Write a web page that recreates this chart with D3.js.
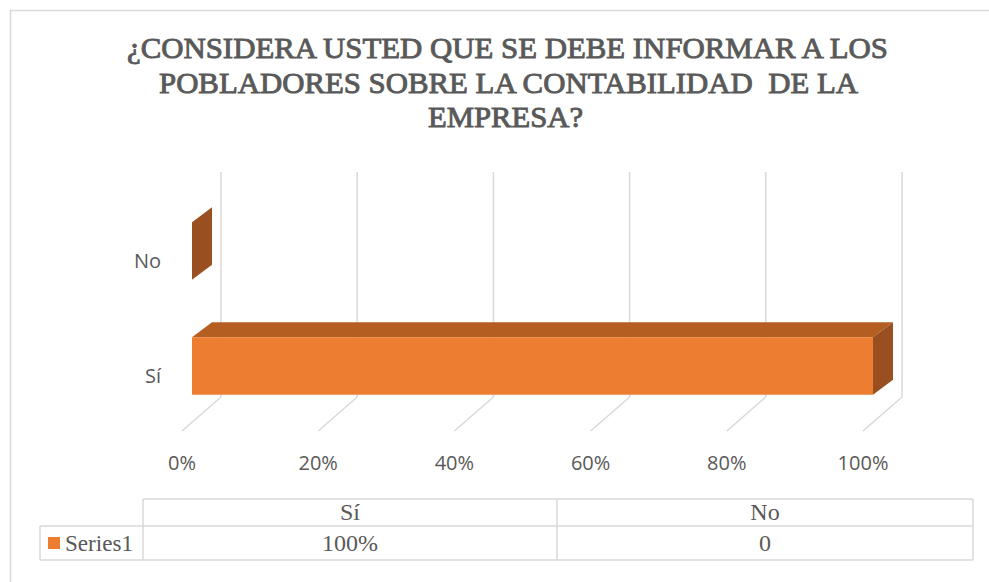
<!DOCTYPE html>
<html><head><meta charset="utf-8">
<script src="https://cdn.jsdelivr.net/npm/d3@7"></script>
<style>body{margin:0;background:#fff}svg{display:block}</style>
</head><body>
<svg id="c" width="989" height="582"></svg>
<script>
const titleLines = ["¿CONSIDERA USTED QUE SE DEBE INFORMAR A LOS", "POBLADORES SOBRE LA CONTABILIDAD  DE LA", "EMPRESA?"];
const categories = ["Sí", "No"];
const values = [1.0, 0];
const tableValues = ["100%", "0"];
const seriesName = "Series1";
const xTicks = [0, 0.2, 0.4, 0.6, 0.8, 1.0];

const svg = d3.select("#c");
const textCol = "#595959", gridCol = "#d9d9d9";
const cFront = "#ED7D31", cTop = "#B55E22", cSide = "#994F1F";
const serif = "'Liberation Serif', 'Times New Roman', serif";

svg.append("rect").attr("x", 10.5).attr("y", 10.5).attr("width", 1000).attr("height", 600)
  .attr("fill", "none").attr("stroke", gridCol).attr("stroke-width", 1.5);

const titleGeom = [{y: 58, x0: 127, w: 761}, {y: 93, x0: 159, w: 699}, {y: 127, x0: 428, w: 155}];
svg.append("g").selectAll("text").data(titleLines).join("text")
  .attr("x", (d, i) => titleGeom[i].x0).attr("y", (d, i) => titleGeom[i].y)
  .attr("textLength", (d, i) => titleGeom[i].w).attr("lengthAdjust", "spacingAndGlyphs")
  .attr("font-family", serif).attr("font-size", 30).attr("fill", textCol)
  .attr("stroke", textCol).attr("stroke-width", 0.9)
  .style("white-space", "pre").text(d => d);

const x = d3.scaleLinear().domain([0, 1]).range([192, 873]);
const y = d3.scaleBand().domain(["No", "Sí"]).range([193.5, 423.5]).paddingInner(0.5).paddingOuter(0.25);
const dep = {dx: 20, dy: -15};
const wall = {dx: 29, top: 172, bottom: 397};
const floorFront = {dx: -10, y: 431};

const g = svg.append("g");
xTicks.forEach(t => {
  const xb = x(t) + wall.dx;
  g.append("line").attr("x1", xb).attr("x2", xb).attr("y1", wall.top).attr("y2", wall.bottom)
    .attr("stroke", gridCol).attr("stroke-width", 1.5);
  g.append("line").attr("x1", xb).attr("y1", wall.bottom).attr("x2", x(t) + floorFront.dx).attr("y2", floorFront.y)
    .attr("stroke", gridCol).attr("stroke-width", 1.5);
});

const fmt = d3.format(".0%");
svg.append("g").selectAll("text").data(xTicks).join("text")
  .attr("x", d => x(d) + floorFront.dx).attr("y", 470)
  .attr("text-anchor", "middle").attr("font-family", "Open Sans, sans-serif").attr("font-size", 20)
  .attr("fill", textCol).text(d => fmt(d));

svg.append("g").selectAll("text").data(categories).join("text")
  .attr("x", 161).attr("y", d => y(d) + y.bandwidth() / 2 + 10 + 7)
  .attr("text-anchor", "end").attr("font-family", "Open Sans, sans-serif").attr("font-size", 20)
  .attr("fill", textCol).text(d => d);

const bars = svg.append("g");
categories.forEach((c, i) => {
  const x0 = x(0), x1 = x(values[i]), y0 = y(c), y1 = y(c) + y.bandwidth();
  const pts = a => a.map(p => p.join(",")).join(" ");
  bars.append("polygon").attr("points", pts([[x0, y0], [x0 + dep.dx, y0 + dep.dy], [x1 + dep.dx, y0 + dep.dy], [x1, y0]]))
    .attr("fill", cTop);
  if (x1 > x0) bars.append("rect").attr("x", x0).attr("y", y0).attr("width", x1 - x0).attr("height", y1 - y0).attr("fill", cFront);
  bars.append("polygon").attr("points", pts([[x1, y0], [x1 + dep.dx, y0 + dep.dy], [x1 + dep.dx, y1 + dep.dy], [x1, y1]]))
    .attr("fill", cSide);
});

const tb = svg.append("g").attr("fill", "none").attr("stroke", gridCol).attr("stroke-width", 1.5);
const colX = [143, 557, 973], rowY = [499, 526, 560], legL = 40;
tb.append("line").attr("x1", colX[0]).attr("x2", colX[2]).attr("y1", rowY[0]).attr("y2", rowY[0]);
tb.append("line").attr("x1", legL).attr("x2", colX[2]).attr("y1", rowY[1]).attr("y2", rowY[1]);
tb.append("line").attr("x1", legL).attr("x2", colX[2]).attr("y1", rowY[2]).attr("y2", rowY[2]);
tb.append("line").attr("x1", legL).attr("x2", legL).attr("y1", rowY[1]).attr("y2", rowY[2]);
colX.forEach(cx => tb.append("line").attr("x1", cx).attr("x2", cx).attr("y1", rowY[0]).attr("y2", rowY[2]));

const tfs = 24;
categories.forEach((c, i) => {
  const cx = (colX[i] + colX[i + 1]) / 2;
  svg.append("text").attr("x", cx).attr("y", 520).attr("text-anchor", "middle")
    .attr("font-family", serif).attr("font-size", tfs).attr("fill", textCol).text(c);
  svg.append("text").attr("x", cx).attr("y", 551).attr("text-anchor", "middle")
    .attr("font-family", serif).attr("font-size", tfs).attr("fill", textCol).text(tableValues[i]);
});
svg.append("rect").attr("x", 48).attr("y", 537).attr("width", 12).attr("height", 12).attr("fill", cFront);
svg.append("text").attr("x", 65).attr("y", 551).attr("textLength", 68).attr("lengthAdjust", "spacingAndGlyphs")
  .attr("font-family", serif).attr("font-size", tfs).attr("fill", textCol).text(seriesName);
</script>
</body></html>
